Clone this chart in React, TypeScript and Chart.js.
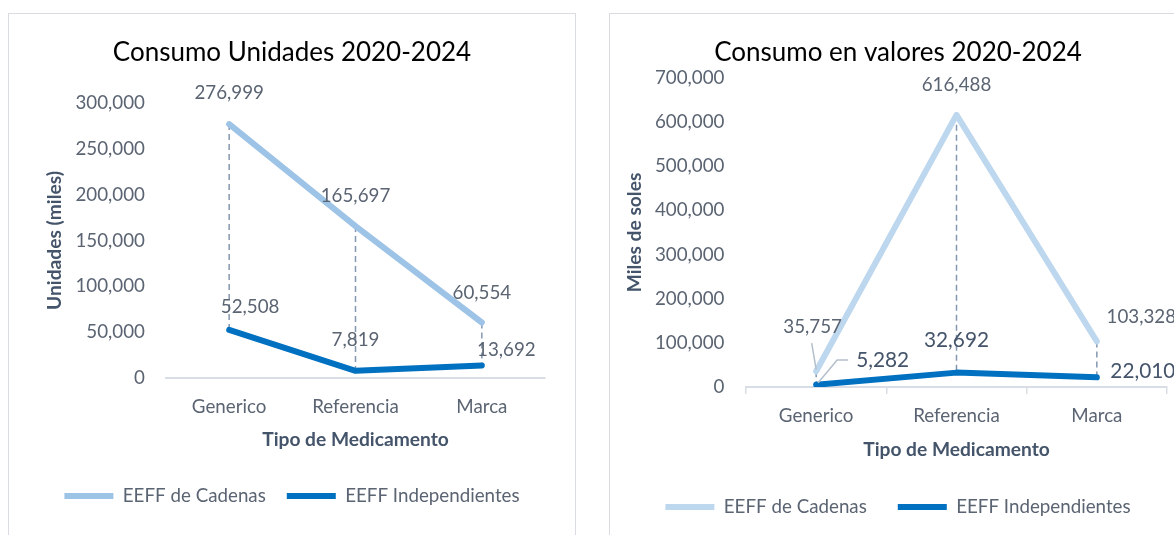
import React, { useEffect, useRef } from 'react';
import { Chart, registerables } from 'chart.js';

Chart.register(...registerables);

// ---------- data ----------
const categories = ['Generico', 'Referencia', 'Marca'];
const seriesNames = ['EEFF de Cadenas', 'EEFF Independientes'];
const unidadesCadenas = [276999, 165697, 60554];
const unidadesIndependientes = [52508, 7819, 13692];
const valoresCadenas = [35757, 616488, 103328];
const valoresIndependientes = [5282, 32692, 22010];
const unidadesTicks = [0, 50000, 100000, 150000, 200000, 250000, 300000];
const valoresTicks = [0, 100000, 200000, 300000, 400000, 500000, 600000, 700000];

const FONT = 'Lato, "Open Sans", "Liberation Sans", sans-serif';
const TICK_COLOR = '#5b6472';
const DARK = '#44546a';
const AXIS_LINE = '#d9dee6';
const IND_COLOR = '#0070C0';

type LabelStyle = {
  size: number;
  color: string;
  offsets: [number, number][];
  leaders?: (string | null)[];
};

type PanelSpec = {
  title: string;
  yTitle: string;
  xTitle: string;
  cad: number[];
  ind: number[];
  yTicks: number[];
  cadColor: string;
  width: number;
  height: number;
  yAxisWidth: number;
  rightAxisWidth: number;
  padRight: number;
  yTickPad: number;
  yTitlePadTop: number;
  titlePad: { top: number; bottom: number };
  xTickPad: number;
  tickMarks: boolean;
  xScaleHeight: number;
  xTitlePadBottom: number;
  legendPad: number;
  layoutBottom: number;
  labels: LabelStyle[];
};

const hiLoPlugin = {
  id: 'hiLo',
  beforeDatasetsDraw(chart: any) {
    const ctx = chart.ctx;
    const a = chart.getDatasetMeta(0).data;
    const b = chart.getDatasetMeta(1).data;
    ctx.save();
    ctx.strokeStyle = '#8497b0';
    ctx.lineWidth = 1.5;
    ctx.setLineDash([6, 4]);
    for (let i = 0; i < a.length; i++) {
      ctx.beginPath();
      ctx.moveTo(a[i].x, a[i].y);
      ctx.lineTo(b[i].x, b[i].y);
      ctx.stroke();
    }
    ctx.restore();
  },
};

const valueLabelPlugin = {
  id: 'valueLabels',
  afterDatasetsDraw(chart: any, _args: any, opts: any) {
    const ctx = chart.ctx;
    const styles: LabelStyle[] = opts.styles || [];
    chart.data.datasets.forEach((ds: any, di: number) => {
      const st = styles[di];
      if (!st) return;
      const meta = chart.getDatasetMeta(di);
      meta.data.forEach((pt: any, i: number) => {
        const v = ds.data[i] as number;
        const [dx, dy] = st.offsets[i];
        const x = pt.x + dx;
        const y = pt.y + dy;
        const text = v.toLocaleString('en-US');
        ctx.save();
        ctx.font = `normal ${st.size}px ${FONT}`;
        ctx.fillStyle = st.color;
        ctx.textAlign = 'center';
        ctx.textBaseline = 'middle';
        ctx.fillText(text, x, y);
        const lead = st.leaders ? st.leaders[i] : null;
        if (lead) {
          ctx.strokeStyle = '#b4bfcc';
          ctx.lineWidth = 1.5;
          ctx.beginPath();
          if (lead === 'down') {
            ctx.moveTo(x - 1, y + st.size * 0.85);
            ctx.lineTo(pt.x, pt.y - 2);
          } else if (lead === 'elbow') {
            const w = ctx.measureText(text).width;
            const sx = x - w / 2 - 8;
            ctx.moveTo(sx, y);
            ctx.lineTo(sx - 11, y);
            ctx.lineTo(pt.x + 2, pt.y - 2);
          }
          ctx.stroke();
        }
        ctx.restore();
      });
    });
  },
};

function buildConfig(s: PanelSpec): any {
  const tickFont = { family: FONT, size: 18.75 };
  const axisTitleFont = { family: FONT, size: 19.2, weight: 'bold' as const };
  return {
    type: 'line',
    data: {
      labels: categories,
      datasets: [
        {
          label: seriesNames[0],
          data: s.cad,
          borderColor: s.cadColor,
          backgroundColor: s.cadColor,
          borderWidth: 6,
          borderCapStyle: 'round',
          borderJoinStyle: 'round',
          pointRadius: 0,
          tension: 0,
          yAxisID: 'y',
        },
        {
          label: seriesNames[1],
          data: s.ind,
          borderColor: IND_COLOR,
          backgroundColor: IND_COLOR,
          borderWidth: 6,
          borderCapStyle: 'round',
          borderJoinStyle: 'round',
          pointRadius: 0,
          tension: 0,
          yAxisID: 'y',
        },
      ],
    },
    options: {
      animation: false,
      responsive: false,
      devicePixelRatio: 1,
      layout: { padding: { left: 0, top: 0, right: s.padRight, bottom: s.layoutBottom } },
      scales: {
        x: {
          type: 'category',
          offset: true,
          grid: {
            display: s.tickMarks,
            drawOnChartArea: false,
            drawTicks: s.tickMarks,
            tickLength: 7,
            color: AXIS_LINE,
            lineWidth: 1.5,
            offset: true,
          },
          border: { display: true, color: AXIS_LINE, width: 2 },
          ticks: {
            padding: s.xTickPad,
            font: tickFont,
            color: TICK_COLOR,
            maxRotation: 0,
            autoSkip: false,
          },
          title: {
            display: true,
            text: s.xTitle,
            font: axisTitleFont,
            color: DARK,
            padding: { top: 0, bottom: s.xTitlePadBottom },
          },
          afterFit: (sc: any) => {
            sc.height = s.xScaleHeight;
          },
        },
        y: {
          type: 'linear',
          position: 'left',
          min: 0,
          max: s.yTicks[s.yTicks.length - 1],
          grid: { display: false, drawTicks: false },
          border: { display: false },
          ticks: {
            padding: s.yTickPad,
            font: tickFont,
            color: TICK_COLOR,
            callback: (v: any) => Number(v).toLocaleString('en-US'),
          },
          afterBuildTicks: (sc: any) => {
            sc.ticks = s.yTicks.map((v) => ({ value: v }));
          },
          title: {
            display: true,
            text: s.yTitle,
            font: axisTitleFont,
            color: DARK,
            padding: { top: s.yTitlePadTop, bottom: 0 },
          },
          afterFit: (sc: any) => {
            sc.width = s.yAxisWidth;
          },
        },
        yR: {
          type: 'linear',
          position: 'right',
          display: true,
          grid: { display: false, drawTicks: false },
          border: { display: false },
          ticks: { display: false },
          afterFit: (sc: any) => {
            sc.width = s.rightAxisWidth;
          },
        },
      },
      plugins: {
        title: {
          display: true,
          text: s.title,
          color: '#000000',
          font: { family: FONT, size: 26, weight: 'normal' },
          padding: s.titlePad,
        },
        legend: {
          display: true,
          position: 'bottom',
          labels: {
            usePointStyle: true,
            pointStyle: 'line',
            pointStyleWidth: 49,
            padding: s.legendPad,
            color: TICK_COLOR,
            font: { family: FONT, size: 18.75 },
          },
        },
        tooltip: { enabled: false },
        valueLabels: { styles: s.labels },
      },
    },
    plugins: [hiLoPlugin, valueLabelPlugin],
  };
}

const leftSpec: PanelSpec = {
  title: 'Consumo Unidades 2020-2024',
  yTitle: 'Unidades (miles)',
  xTitle: 'Tipo de Medicamento',
  cad: unidadesCadenas,
  ind: unidadesIndependientes,
  yTicks: unidadesTicks,
  cadColor: '#9DC3E6',
  width: 566,
  height: 521,
  yAxisWidth: 157,
  rightAxisWidth: 30,
  padRight: 0,
  yTickPad: 21,
  yTitlePadTop: 34.5,
  titlePad: { top: 23.4, bottom: 34.4 },
  xTickPad: 17.75,
  tickMarks: false,
  xScaleHeight: 87.6,
  xTitlePadBottom: 14.1,
  legendPad: 21,
  layoutBottom: 19.65,
  labels: [
    { size: 18.75, color: TICK_COLOR, offsets: [[0, -31], [0, -30], [0, -30]] },
    { size: 18.75, color: TICK_COLOR, offsets: [[21, -22.6], [0, -31], [24.6, -15.5]] },
  ],
};

const rightSpec: PanelSpec = {
  title: 'Consumo en valores 2020-2024',
  yTitle: 'Miles de soles',
  xTitle: 'Tipo de Medicamento',
  cad: valoresCadenas,
  ind: valoresIndependientes,
  yTicks: valoresTicks,
  cadColor: '#BDD7EE',
  width: 640,
  height: 521,
  yAxisWidth: 136,
  rightAxisWidth: 19,
  padRight: 64,
  yTickPad: 21.5,
  yTitlePadTop: 13.5,
  titlePad: { top: 23.4, bottom: 9.4 },
  xTickPad: 10.75,
  tickMarks: true,
  xScaleHeight: 79.6,
  xTitlePadBottom: 5.1,
  legendPad: 31,
  layoutBottom: 8.6,
  labels: [
    {
      size: 18.75,
      color: TICK_COLOR,
      offsets: [[-3.5, -44], [0, -30], [44.5, -24.7]],
      leaders: ['down', null, null],
    },
    {
      size: 20.8,
      color: DARK,
      offsets: [[66.5, -24.7], [0, -32.6], [46, -5.6]],
      leaders: ['elbow', null, null],
    },
  ],
};

function ChartPanel({ spec }: { spec: PanelSpec }) {
  const ref = useRef<HTMLCanvasElement | null>(null);
  useEffect(() => {
    if (!ref.current) return;
    const chart = new Chart(ref.current, buildConfig(spec));
    return () => chart.destroy();
  }, [spec]);
  return (
    <canvas
      ref={ref}
      width={spec.width}
      height={spec.height}
      style={{ display: 'block', width: spec.width, height: spec.height }}
    />
  );
}

export default function App() {
  return (
    <div
      style={{
        position: 'absolute',
        left: 0,
        top: 0,
        width: 1174,
        height: 535,
        overflow: 'hidden',
        background: '#ffffff',
      }}
    >
      <div
        style={{
          position: 'absolute',
          left: 8,
          top: 13,
          width: 566,
          height: 540,
          border: '1px solid #d9dde3',
        }}
      >
        <ChartPanel spec={leftSpec} />
      </div>
      <div
        style={{
          position: 'absolute',
          left: 609,
          top: 13,
          width: 640,
          height: 540,
          border: '1px solid #d9dde3',
        }}
      >
        <ChartPanel spec={rightSpec} />
      </div>
    </div>
  );
}
